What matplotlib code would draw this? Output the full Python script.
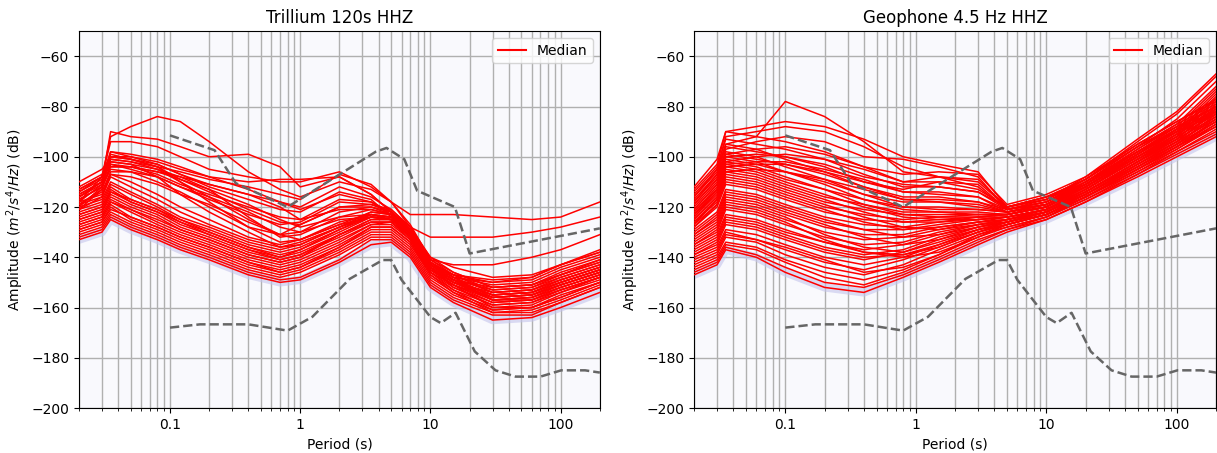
import numpy as np
import matplotlib
matplotlib.use('Agg')
import matplotlib.pyplot as plt
from matplotlib.ticker import FixedLocator, FixedFormatter

# Peterson noise models (period s, dB)
nlnm_p = [0.1, 0.17, 0.4, 0.8, 1.24, 2.4, 4.3, 5.0, 6.0, 10.0, 12.0, 15.6, 21.9, 31.6, 45.0, 70.0, 101.0, 154.0, 200.0]
nlnm_db = [-168.0, -166.7, -166.7, -169.2, -163.7, -148.6, -141.1, -141.1, -149.0, -163.8, -166.2, -162.1, -177.5, -185.0, -187.5, -187.5, -185.0, -185.0, -185.9]
nhnm_p = [0.1, 0.22, 0.32, 0.8, 3.8, 4.6, 6.3, 7.9, 15.4, 20.0, 200.0]
nhnm_db = [-91.5, -97.4, -110.5, -120.0, -98.0, -96.5, -101.0, -113.5, -120.0, -138.5, -128.5]

# Trillium medians
tri_p = [0.02, 0.03, 0.035, 0.05, 0.08, 0.12, 0.2, 0.4, 0.7, 1.0, 2.0, 3.5, 5.0, 7.0, 10, 15, 30, 60, 100, 200]
tri_db = [
    [-133,-130,-125,-129,-133,-137,-141,-147,-150,-149,-142,-135,-134,-140,-152,-158,-165,-164,-160,-154],
    [-132,-129,-124,-128,-132,-136,-140,-146,-149,-148,-141,-133,-133,-139,-151,-157,-163,-163,-158,-152],
    [-131,-128,-123,-127,-131,-135,-139,-145,-148,-146,-139,-132,-132,-138,-150,-156,-162,-161,-157,-151],
    [-130,-127,-122,-126,-130,-134,-138,-144,-147,-145,-138,-131,-131,-137,-149,-155,-161,-160,-155,-150],
    [-129,-126,-120,-125,-129,-133,-137,-143,-146,-144,-137,-130,-130,-136,-148,-154,-160,-159,-154,-149],
    [-128,-125,-119,-124,-128,-132,-136,-142,-145,-143,-136,-129,-129,-135,-147,-153,-159,-158,-153,-148],
    [-127,-124,-118,-122,-127,-131,-135,-141,-144,-142,-135,-128,-128,-134,-146,-152,-158,-157,-152,-147],
    [-126,-123,-117,-121,-126,-130,-134,-140,-143,-141,-134,-127,-127,-133,-146,-151,-157,-156,-151,-146],
    [-125,-122,-116,-120,-124,-129,-133,-139,-142,-140,-133,-127,-126,-133,-145,-151,-156,-155,-150,-145],
    [-124,-121,-115,-119,-123,-128,-132,-138,-141,-139,-132,-126,-126,-132,-145,-150,-155,-154,-149,-144],
    [-123,-120,-113,-118,-122,-127,-131,-137,-140,-138,-131,-125,-125,-132,-144,-150,-154,-153,-148,-143],
    [-122,-119,-112,-117,-121,-126,-130,-136,-139,-137,-130,-124,-125,-131,-144,-149,-153,-152,-147,-142],
    [-121,-118,-111,-115,-120,-125,-129,-135,-138,-136,-129,-123,-124,-131,-143,-149,-152,-151,-146,-141],
    [-120,-117,-110,-114,-119,-124,-128,-134,-137,-135,-128,-123,-124,-130,-143,-148,-151,-150,-145,-140],
    [-119,-116,-108,-112,-117,-122,-127,-133,-136,-134,-128,-122,-123,-130,-142,-148,-150,-149,-144,-139],
    [-118,-115,-107,-110,-115,-120,-125,-132,-135,-133,-127,-122,-123,-129,-142,-147,-149,-148,-143,-138],
    [-127,-124,-118,-121,-125,-129,-133,-139,-142,-140,-131,-125,-125,-131,-143,-147,-150,-148,-143,-137],
    [-125,-122,-114,-118,-122,-126,-131,-137,-141,-139,-131,-126,-126,-132,-146,-153,-161,-160,-156,-150],
    [-129,-126,-121,-124,-128,-132,-136,-142,-146,-144,-136,-128,-128,-134,-147,-154,-162,-162,-158,-152],
    [-123,-120,-114,-117,-121,-125,-130,-136,-140,-137,-129,-124,-124,-130,-144,-152,-159,-158,-154,-148],
    [-115,-110,-102,-103,-108,-115,-122,-130,-136,-135,-128,-124,-125,-131,-144,-150,-156,-155,-151,-146],
    [-113,-108,-100,-101,-104,-110,-118,-128,-134,-133,-126,-123,-124,-130,-143,-149,-157,-157,-153,-148],
    [-112,-107,-104,-104,-106,-108,-113,-124,-132,-131,-124,-121,-123,-130,-145,-151,-160,-160,-156,-150],
    [-117,-112,-105,-106,-110,-114,-120,-128,-131,-130,-122,-120,-122,-129,-142,-147,-153,-152,-148,-143],
    [-110,-105,-101,-102,-105,-110,-116,-125,-131,-127,-120,-119,-121,-128,-141,-146,-152,-151,-147,-141],
    [-114,-109,-103,-105,-108,-112,-117,-123,-127,-126,-118,-119,-122,-129,-140,-144,-148,-147,-143,-138],
    [-117,-112,-104,-104,-106,-109,-113,-119,-125,-128,-124,-123,-125,-131,-144,-150,-156,-155,-151,-146],
    [-115,-110,-102,-103,-105,-108,-111,-115,-120,-125,-121,-121,-123,-130,-143,-149,-155,-154,-150,-145],
    [-119,-114,-106,-106,-108,-112,-116,-122,-128,-130,-125,-124,-125,-131,-145,-151,-158,-157,-153,-148],
    [-121,-116,-107,-108,-111,-115,-119,-126,-131,-133,-127,-124,-125,-131,-144,-150,-157,-156,-152,-147],
    [-113,-108,-98,-100,-102,-105,-108,-113,-118,-121,-115,-118,-122,-129,-142,-148,-154,-153,-149,-144],
    [-116,-111,-100,-101,-104,-109,-114,-121,-126,-127,-120,-120,-123,-130,-143,-149,-155,-154,-150,-145],
    [-118,-108,-92,-88,-84,-86,-94,-106,-113,-116,-110,-113,-118,-128,-142,-148,-156,-155,-151,-146],
    [-116,-110,-90,-92,-93,-96,-100,-99,-104,-112,-108,-115,-122,-130,-143,-149,-157,-156,-152,-147],
    [-114,-108,-94,-94,-96,-100,-105,-108,-110,-110,-106,-112,-118,-123,-123,-123,-124,-125,-124,-118],
    [-116,-110,-98,-99,-101,-104,-108,-110,-109,-109,-108,-115,-122,-128,-132,-132,-132,-130,-128,-124],
    [-120,-112,-100,-100,-103,-107,-112,-117,-121,-122,-114,-117,-124,-132,-141,-143,-143,-140,-137,-131],
    [-118,-111,-101,-102,-104,-106,-109,-112,-115,-117,-107,-111,-118,-127,-141,-147,-154,-153,-149,-144],
    [-121,-113,-103,-104,-107,-111,-115,-120,-124,-125,-117,-118,-123,-130,-143,-149,-155,-154,-150,-145],
    [-119,-113,-99,-101,-103,-107,-111,-115,-118,-120,-112,-116,-121,-128,-140,-146,-152,-151,-147,-142],
]

# Geophone medians
geo_p = [0.02, 0.03, 0.035, 0.06, 0.1, 0.2, 0.4, 0.8, 1.5, 3, 5, 10, 20, 50, 100, 200]
geo_db = [
    [-147,-143,-137,-140,-146,-152,-154,-148,-142,-135,-130,-125,-118,-108,-100,-92],
    [-146,-142,-136,-139,-144,-150,-152,-147,-141,-134,-129,-125,-118,-107,-99,-91],
    [-145,-141,-135,-137,-142,-148,-151,-146,-140,-133,-129,-124,-117,-107,-98,-90],
    [-144,-140,-134,-136,-141,-146,-149,-145,-139,-132,-128,-124,-117,-106,-98,-89],
    [-143,-139,-132,-134,-139,-144,-147,-143,-137,-131,-128,-124,-116,-106,-97,-88],
    [-142,-138,-131,-133,-137,-142,-145,-141,-136,-130,-127,-123,-116,-105,-97,-87],
    [-140,-136,-129,-131,-135,-140,-143,-140,-135,-129,-127,-123,-116,-105,-96,-86],
    [-139,-135,-127,-129,-133,-138,-141,-138,-133,-128,-126,-123,-115,-104,-96,-85],
    [-138,-133,-125,-127,-131,-136,-139,-137,-132,-128,-126,-122,-115,-104,-95,-84],
    [-136,-131,-123,-125,-129,-134,-137,-135,-131,-127,-126,-122,-115,-103,-95,-83],
    [-135,-130,-121,-123,-127,-132,-135,-134,-130,-127,-125,-122,-114,-103,-94,-82],
    [-134,-128,-119,-121,-125,-130,-133,-132,-129,-126,-125,-122,-114,-102,-94,-81],
    [-132,-126,-117,-119,-123,-128,-131,-131,-128,-126,-125,-121,-114,-102,-93,-80],
    [-131,-124,-115,-117,-121,-126,-129,-129,-127,-125,-124,-121,-113,-101,-93,-79],
    [-129,-122,-113,-115,-119,-124,-127,-128,-126,-125,-124,-121,-113,-101,-92,-78],
    [-128,-120,-111,-113,-117,-122,-125,-126,-125,-124,-124,-121,-113,-100,-92,-77],
    [-126,-118,-109,-111,-115,-120,-123,-125,-124,-124,-123,-120,-112,-100,-91,-76],
    [-125,-116,-107,-109,-113,-118,-121,-123,-123,-123,-123,-120,-112,-99,-90,-75],
    [-123,-114,-105,-107,-111,-116,-119,-122,-122,-122,-123,-120,-112,-99,-89,-74],
    [-122,-112,-103,-105,-109,-113,-117,-120,-120,-121,-122,-120,-111,-98,-88,-73],
    [-120,-110,-101,-103,-106,-110,-115,-118,-118,-120,-122,-119,-111,-97,-87,-72],
    [-118,-108,-99,-101,-103,-107,-112,-116,-116,-118,-121,-119,-110,-96,-85,-70],
    [-116,-106,-96,-98,-100,-104,-110,-114,-114,-116,-121,-118,-109,-94,-83,-68],
    [-114,-104,-93,-95,-97,-101,-107,-112,-112,-114,-120,-117,-108,-93,-82,-67],
    [-112,-101,-90,-92,-94,-98,-104,-110,-110,-113,-120,-116,-111,-98,-89,-77],
    [-115,-105,-92,-90,-88,-90,-96,-104,-108,-112,-121,-118,-110,-97,-88,-80],
    [-113,-103,-90,-88,-86,-88,-93,-100,-103,-106,-120,-117,-110,-98,-89,-82],
    [-117,-107,-95,-92,-78,-84,-94,-106,-108,-110,-120,-116,-109,-95,-86,-78],
    [-119,-109,-97,-94,-92,-94,-100,-101,-104,-108,-121,-117,-109,-96,-87,-79],
    [-121,-111,-99,-97,-96,-99,-104,-107,-106,-107,-119,-115,-108,-95,-86,-77],
    [-124,-114,-102,-100,-99,-101,-105,-110,-108,-109,-120,-116,-109,-96,-88,-80],
    [-127,-117,-104,-103,-103,-106,-110,-113,-110,-111,-121,-118,-110,-98,-90,-83],
    [-137,-132,-124,-126,-130,-134,-138,-140,-138,-132,-127,-123,-116,-105,-96,-88],
    [-141,-137,-130,-133,-136,-141,-146,-144,-139,-131,-127,-123,-116,-104,-95,-86],
    [-133,-127,-118,-120,-124,-131,-136,-138,-134,-129,-126,-122,-115,-103,-94,-85],
    [-130,-123,-114,-116,-120,-125,-129,-132,-131,-128,-125,-122,-114,-102,-93,-84],
    [-127,-119,-110,-112,-116,-121,-126,-129,-128,-126,-124,-121,-114,-102,-92,-83],
    [-124,-115,-106,-108,-112,-117,-122,-126,-126,-124,-123,-120,-113,-101,-91,-82],
    [-121,-111,-102,-104,-108,-113,-119,-123,-124,-123,-123,-120,-112,-100,-90,-81],
    [-118,-107,-98,-100,-104,-109,-115,-120,-121,-121,-122,-119,-111,-99,-89,-80],
    [-139,-134,-126,-128,-132,-137,-140,-139,-135,-130,-127,-123,-116,-105,-96,-87],
    [-135,-129,-120,-122,-126,-133,-138,-139,-136,-130,-126,-122,-115,-104,-95,-86],
    [-131,-125,-116,-118,-122,-127,-132,-135,-133,-129,-126,-122,-115,-103,-94,-85],
    [-126,-117,-108,-110,-114,-119,-124,-128,-129,-127,-125,-121,-114,-102,-93,-84],
    [-122,-113,-104,-106,-110,-115,-120,-124,-125,-125,-124,-121,-113,-101,-92,-83],
    [-119,-109,-100,-102,-106,-111,-117,-121,-122,-123,-123,-120,-112,-100,-91,-82],
    [-116,-105,-95,-97,-101,-106,-112,-117,-118,-119,-122,-119,-112,-99,-90,-81],
    [-123,-113,-100,-99,-100,-103,-108,-111,-112,-114,-121,-118,-111,-98,-89,-80],
    [-125,-116,-103,-102,-102,-105,-109,-114,-115,-116,-122,-119,-111,-99,-90,-81],
    [-128,-119,-106,-105,-106,-109,-113,-117,-117,-118,-122,-119,-112,-100,-91,-82],
]

titles = ['Trillium 120s HHZ', 'Geophone 4.5 Hz HHZ']

fig = plt.figure(figsize=(12.17, 4.53), dpi=100)
ax1 = fig.add_axes([0.0649, 0.0993, 0.428, 0.832])
ax2 = fig.add_axes([0.5703, 0.0993, 0.429, 0.832])

for ax, per, curves, title in [(ax1, tri_p, tri_db, titles[0]), (ax2, geo_p, geo_db, titles[1])]:
    ax.set_facecolor('#f9f9fd')
    ax.set_xscale('log')
    # faint density band along the quietest curve
    ax.plot(per, curves[0], color='#c4c4ec', lw=6, alpha=0.6, zorder=1)
    for i, c in enumerate(curves):
        ax.plot(per, c, color='red', lw=1.1, zorder=3, label='Median' if i == 0 else None)
    ax.plot(nlnm_p, nlnm_db, '--', color='#666666', lw=1.8, zorder=4)
    ax.plot(nhnm_p, nhnm_db, '--', color='#666666', lw=1.8, zorder=4)
    ax.set_xlim(0.02, 200)
    ax.set_ylim(-200, -50)
    ax.set_yticks([-200, -180, -160, -140, -120, -100, -80, -60])
    ax.xaxis.set_major_locator(FixedLocator([0.1, 1, 10, 100]))
    ax.xaxis.set_major_formatter(FixedFormatter(['0.1', '1', '10', '100']))
    ax.grid(True, which='major', color='#b0b0b0', lw=1, zorder=0)
    ax.grid(True, which='minor', axis='x', color='#b0b0b0', lw=1, zorder=0)
    ax.set_axisbelow(True)
    ax.set_title(title)
    ax.set_xlabel('Period (s)')
    ax.set_ylabel('Amplitude ($m^2/s^4/Hz$) (dB)')
    leg = ax.legend(loc='upper right')
    for h in leg.get_lines():
        h.set_linewidth(1.5)

plt.savefig('out.png', dpi=100)
